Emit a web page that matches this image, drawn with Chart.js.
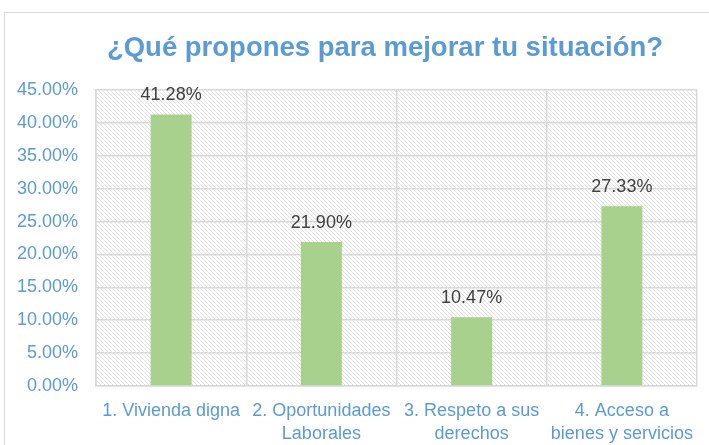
<!DOCTYPE html>
<html lang="es">
<head>
    <meta charset="UTF-8">
    <title>¿Qué propones para mejorar tu situación?</title>
    <script src="https://cdn.jsdelivr.net/npm/chart.js"></script>
    <style>
        html, body { margin: 0; padding: 0; background: #fff; }
        body { width: 709px; height: 445px; overflow: hidden; position: relative; font-family: 'Liberation Sans', Arial, sans-serif; }
        /* marco exterior del grafico */
        .frame { position: absolute; left: 4px; top: 12px; width: 720px; height: 460px; border: 1px solid #d9d9d9; box-sizing: border-box; }
        .wrap { position: absolute; left: 0; top: 0; width: 709px; height: 445px; }
    </style>
</head>
<body>
<div class="frame"></div>
<div class="wrap"><canvas id="chart" width="709" height="445"></canvas></div>

<script>
    // datos
    const titulo = '¿Qué propones para mejorar tu situación?';
    const categorias = [
        ['1. Vivienda digna'],
        ['2. Oportunidades', 'Laborales'],
        ['3. Respeto a sus', 'derechos'],
        ['4. Acceso a', 'bienes y servicios']
    ];
    const porcentajes = [41.28, 21.90, 10.47, 27.33];
    const ejeMin = 0;
    const ejeMax = 45;
    const ejePaso = 5;

    const azul = '#5b9bd5';
    const verde = '#a9d18e';
    const gris = '#d9d9d9';
    const fuente = '"Liberation Sans", Arial, sans-serif';

    // fondo rayado del area de trazado
    function crearRayado() {
        const c = document.createElement('canvas');
        c.width = 4; c.height = 4;
        const g = c.getContext('2d');
        g.fillStyle = '#ffffff';
        g.fillRect(0, 0, 4, 4);
        g.strokeStyle = '#e0e0e0';
        g.lineWidth = 1;
        g.beginPath();
        g.moveTo(-1, -1); g.lineTo(5, 5);
        g.moveTo(-1, 3); g.lineTo(1, 5);
        g.moveTo(3, -1); g.lineTo(5, 1);
        g.stroke();
        return c;
    }

    const fondoRayado = {
        id: 'fondoRayado',
        beforeDraw(chart) {
            const { ctx, chartArea: a } = chart;
            ctx.save();
            ctx.fillStyle = ctx.createPattern(crearRayado(), 'repeat');
            ctx.fillRect(a.left, a.top, a.right - a.left, a.bottom - a.top);
            ctx.restore();
        }
    };

    // titulo un poco desplazado a la izquierda, como en el original
    const tituloPlugin = {
        id: 'tituloPlugin',
        afterDraw(chart) {
            const { ctx } = chart;
            ctx.save();
            ctx.font = 'bold 27.5px ' + fuente;
            ctx.fillStyle = azul;
            ctx.textAlign = 'center';
            ctx.textBaseline = 'middle';
            ctx.fillText(titulo, 385, 48);
            ctx.restore();
        }
    };

    const etiquetas = {
        id: 'etiquetas',
        afterDatasetsDraw(chart) {
            const { ctx } = chart;
            const meta = chart.getDatasetMeta(0);
            ctx.save();
            ctx.font = '18px ' + fuente;
            ctx.fillStyle = '#404040';
            ctx.textAlign = 'center';
            ctx.textBaseline = 'middle';
            meta.data.forEach((bar, i) => {
                ctx.fillText(porcentajes[i].toFixed(2) + '%', bar.x, bar.y - 19);
            });
            ctx.restore();
        }
    };

    new Chart(document.getElementById('chart'), {
        type: 'bar',
        data: {
            labels: categorias,
            datasets: [{
                data: porcentajes,
                backgroundColor: verde,
                borderWidth: 0,
                categoryPercentage: 1,
                barPercentage: 0.273
            }]
        },
        options: {
            responsive: false,
            animation: false,
            layout: { padding: { left: 17, right: 12, top: 90, bottom: 0 } },
            plugins: {
                legend: { display: false },
                tooltip: { enabled: false },
                title: { display: false }
            },
            scales: {
                x: {
                    afterFit(scale) { scale.height = 59; },
                    grid: { color: gris, lineWidth: 1.5, drawTicks: false, offset: true },
                    border: { color: gris, width: 1.5 },
                    ticks: {
                        color: azul,
                        padding: 13,
                        maxRotation: 0,
                        font: { family: fuente, size: 18, lineHeight: 1.3 }
                    }
                },
                y: {
                    min: ejeMin,
                    max: ejeMax,
                    afterFit(scale) { scale.width = 79; },
                    grid: { color: gris, lineWidth: 1.5, drawTicks: false },
                    border: { color: gris, width: 1.5 },
                    ticks: {
                        stepSize: ejePaso,
                        color: azul,
                        padding: 18,
                        font: { family: fuente, size: 18 },
                        callback: v => v.toFixed(2) + '%'
                    }
                }
            }
        },
        plugins: [fondoRayado, etiquetas, tituloPlugin]
    });
</script>
</body>
</html>
